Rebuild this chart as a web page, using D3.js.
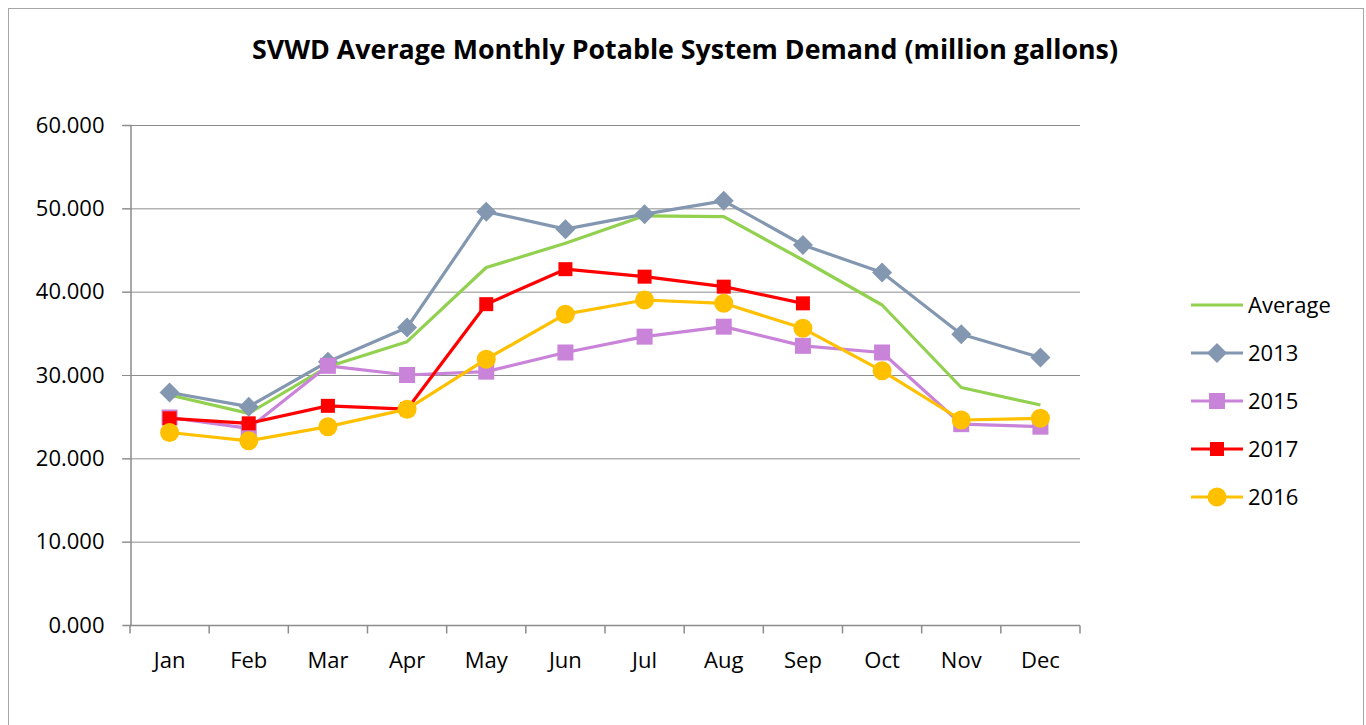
<!DOCTYPE html>
<html><head><meta charset="utf-8">
<script src="https://cdn.jsdelivr.net/npm/d3@7"></script>
<style>body{margin:0;background:#fff}svg{display:block}text{font-family:"Open Sans",sans-serif;fill:#000}</style>
</head><body><svg id="c" width="1366" height="725"></svg>
<script>
const months = ["Jan","Feb","Mar","Apr","May","Jun","Jul","Aug","Sep","Oct","Nov","Dec"];
const yTicks = [0,10,20,30,40,50,60];
const average = [27.6,25.4,31.0,34.0,42.9,45.8,49.1,49.0,43.8,38.4,28.5,26.4];
const y2013 = [27.9,26.2,31.6,35.7,49.6,47.5,49.3,50.9,45.6,42.3,34.9,32.1];
const y2015 = [24.9,23.6,31.1,30.0,30.4,32.7,34.6,35.8,33.5,32.7,24.1,23.8];
const y2017 = [24.8,24.2,26.3,25.9,38.5,42.7,41.8,40.6,38.6,null,null,null];
const y2016 = [23.1,22.1,23.8,25.9,31.9,37.3,39.0,38.6,35.6,30.5,24.6,24.8];
const seriesNames = ["Average","2013","2015","2017","2016"];
const seriesData = [average,y2013,y2015,y2017,y2016];
const colors = ["#92D050","#8497B0","#C983D9","#FF0000","#FFC000"];
const markers = ["none","diamond","square","squareSmall","circle"];

const svg = d3.select("#c");
svg.append("rect").attr("x",8.5).attr("y",8.5).attr("width",1355).attr("height",740)
  .attr("fill","#fff").attr("stroke","#a6a6a6").attr("stroke-width",1);

const L=130, R=1080, T=125, B=625;
const x = d3.scaleBand().domain(months).range([L,R]).padding(0);
const y = d3.scaleLinear().domain([0,60]).range([B,T]);
const cx = m => x(m)+x.bandwidth()/2;

// gridlines
svg.append("g").selectAll("line").data(yTicks.filter(d=>d>0)).join("line")
  .attr("x1",L-8).attr("x2",R).attr("y1",d=>y(d)+0.5).attr("y2",d=>y(d)+0.5)
  .attr("stroke","#8c8c8c").attr("stroke-width",1);

// y axis
const ya = svg.append("g").attr("transform",`translate(${L+0.5},0)`)
  .call(d3.axisLeft(y).tickValues(yTicks).tickFormat(d3.format(".3f")).tickSize(8).tickPadding(18));
ya.select(".domain").attr("stroke","#8c8c8c").attr("stroke-width",1.5);
ya.selectAll(".tick line").attr("stroke","#8c8c8c");
ya.selectAll(".tick text").style("font-size","22px").style("font-family","'Open Sans',sans-serif").attr("fill","#000");

// x axis
const xa = svg.append("g").attr("transform",`translate(0,${B+0.5})`);
xa.append("line").attr("x1",L).attr("x2",R).attr("stroke","#8c8c8c").attr("stroke-width",1.5);
const bounds = months.map(m=>x(m)).concat([R]);
xa.selectAll("line.t").data(bounds).join("line").attr("class","t")
  .attr("x1",d=>d).attr("x2",d=>d).attr("y1",0).attr("y2",8).attr("stroke","#8c8c8c").attr("stroke-width",1.5);
xa.selectAll("text").data(months).join("text")
  .attr("x",d=>cx(d)).attr("y",42).attr("text-anchor","middle").style("font-size","22px").text(d=>d);

// title
svg.append("text").attr("x",685).attr("y",59).attr("text-anchor","middle")
  .attr("textLength",866).attr("lengthAdjust","spacingAndGlyphs")
  .style("font-size","26px").style("font-weight","bold").text("SVWD Average Monthly Potable System Demand (million gallons)");

function drawMarker(g, type, color){
  if(type==="diamond") g.append("path").attr("d","M0,-10L10,0L0,10L-10,0Z").attr("fill",color);
  else if(type==="square") g.append("rect").attr("x",-8).attr("y",-8).attr("width",16).attr("height",16).attr("fill",color);
  else if(type==="squareSmall") g.append("rect").attr("x",-7).attr("y",-7).attr("width",14).attr("height",14).attr("fill",color);
  else if(type==="circle") g.append("circle").attr("r",9.5).attr("fill",color);
}

const line = d3.line().defined(d=>d.v!=null).x(d=>cx(d.m)).y(d=>y(d.v));
seriesData.forEach((arr,i)=>{
  const pts = months.map((m,j)=>({m, v:arr[j]}));
  const g = svg.append("g");
  g.append("path").datum(pts).attr("d",line).attr("fill","none")
    .attr("stroke",colors[i]).attr("stroke-width",3.2).attr("stroke-linejoin","round");
  if(markers[i]!=="none"){
    pts.filter(p=>p.v!=null).forEach(p=>{
      const mg = g.append("g").attr("transform",`translate(${cx(p.m)},${y(p.v)})`);
      drawMarker(mg, markers[i], colors[i]);
    });
  }
});

// legend
const lg = svg.append("g");
seriesNames.forEach((n,i)=>{
  const yy = 305 + i*48;
  lg.append("line").attr("x1",1191).attr("x2",1243).attr("y1",yy).attr("y2",yy)
    .attr("stroke",colors[i]).attr("stroke-width",3.2);
  if(markers[i]!=="none"){
    const mg = lg.append("g").attr("transform",`translate(1217,${yy})`);
    drawMarker(mg, markers[i], colors[i]);
  }
  lg.append("text").attr("x",1248).attr("y",yy+8).style("font-size","22px").text(n);
});
</script></body></html>
